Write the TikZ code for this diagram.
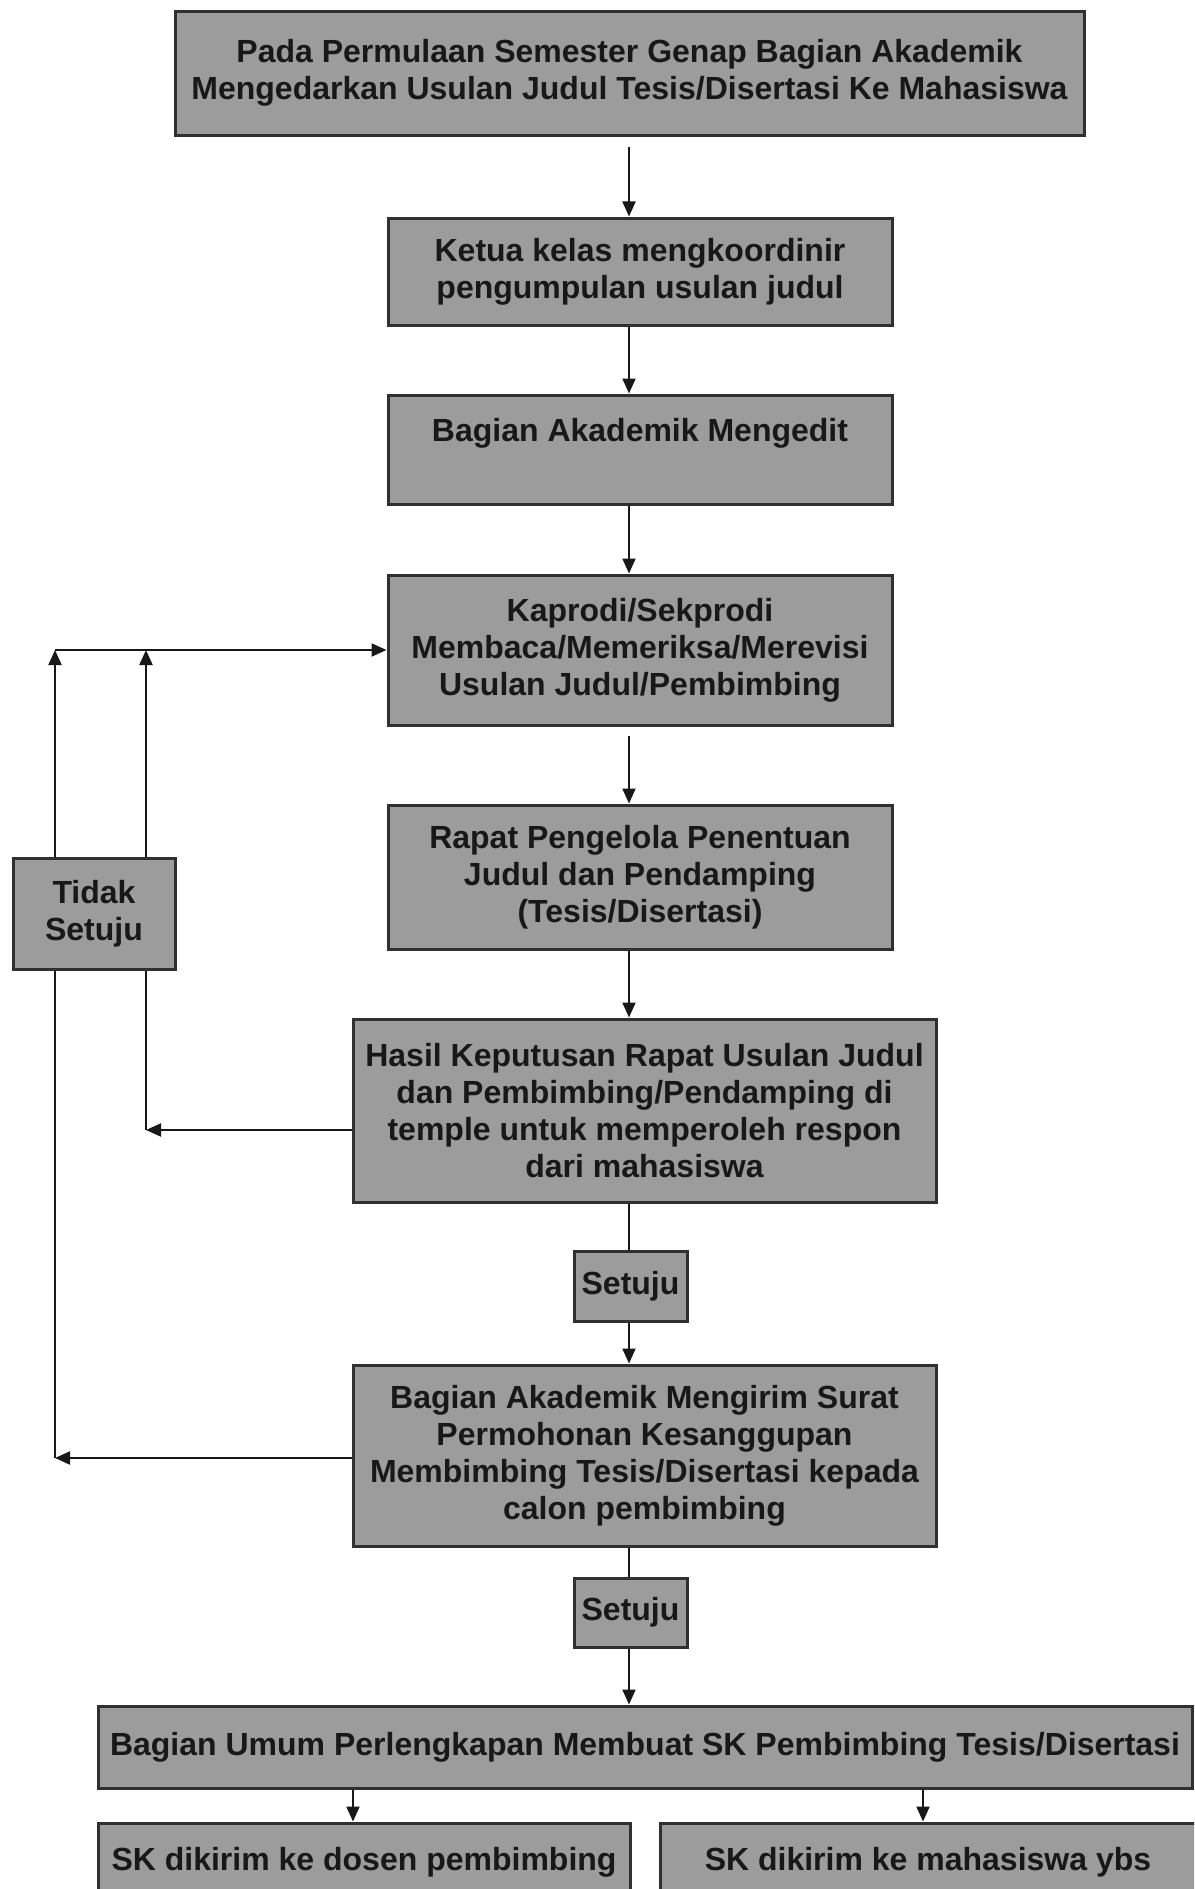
\documentclass[tikz,border=0pt]{standalone}
\usepackage{fontspec}
\setmainfont{Liberation Sans}
\usetikzlibrary{arrows.meta}
\definecolor{boxfill}{RGB}{156,156,156}
\definecolor{boxline}{RGB}{48,48,48}
\definecolor{ink}{RGB}{24,24,24}
\tikzset{
  box/.style={draw=boxline, line width=3pt, fill=boxfill, text=ink,
    font=\fontsize{32}{37}\selectfont\bfseries, align=center, inner sep=0pt},
  flow/.style={draw=ink, line width=2pt, -{Triangle[length=15pt,width=13pt]}},
  link/.style={draw=ink, line width=2pt},
}
\begin{document}
\begin{tikzpicture}[x=1pt,y=-1pt]
\clip (0,0) rectangle (1194,1889);
\fill[white] (0,0) rectangle (1194,1889);

% main column
\node[box, minimum width=909pt, minimum height=124pt] (b1) at (629.5,74)
  {Pada Permulaan Semester Genap Bagian Akademik\\Mengedarkan Usulan Judul Tesis/Disertasi Ke Mahasiswa\\[-28pt]\mbox{}};
\node[box, minimum width=504pt, minimum height=107pt] (b2) at (640,271.5)
  {Ketua kelas mengkoordinir\\pengumpulan usulan judul};
\node[box, minimum width=504pt, minimum height=109pt] (b3) at (640,449.5)
  {Bagian Akademik Mengedit\\[2pt]\mbox{}};
\node[box, minimum width=504pt, minimum height=150pt] (b4) at (640,650)
  {Kaprodi/Sekprodi\\Membaca/Memeriksa/Merevisi\\Usulan Judul/Pembimbing};
\node[box, minimum width=504pt, minimum height=144pt] (b5) at (640,877)
  {Rapat Pengelola Penentuan\\Judul dan Pendamping\\(Tesis/Disertasi)};
\node[box, minimum width=583pt, minimum height=183pt] (b6) at (644.5,1110.5)
  {Hasil Keputusan Rapat Usulan Judul\\dan Pembimbing/Pendamping di\\temple untuk memperoleh respon\\dari mahasiswa};
\node[box, minimum width=113pt, minimum height=70pt] (s1) at (630.5,1286) {Setuju};
\node[box, minimum width=583pt, minimum height=181pt] (b7) at (644.5,1455.5)
  {Bagian Akademik Mengirim Surat\\Permohonan Kesanggupan\\Membimbing Tesis/Disertasi kepada\\calon pembimbing};
\node[box, minimum width=113pt, minimum height=69pt] (s2) at (630.5,1612.5) {Setuju};
\node[box, minimum width=1094pt, minimum height=82pt] (b8) at (645,1747)
  {Bagian Umum Perlengkapan Membuat SK Pembimbing Tesis/Disertasi};
\node[box, minimum width=532pt, minimum height=78pt] (b9) at (364,1862)
  {SK dikirim ke dosen pembimbing};
\node[box, minimum width=536pt, minimum height=78pt] (b10) at (928,1862)
  {SK dikirim ke mahasiswa ybs};

% rejection box
\node[box, minimum width=162pt, minimum height=111pt] (no) at (94,913.5) {Tidak\\Setuju};

% vertical guides
\coordinate (axis) at (629,0);
\coordinate (lx) at (55,0);
\coordinate (rx) at (146,0);
\coordinate (p9) at (353,0);
\coordinate (p10) at (923,0);
\coordinate (r6) at (146,1130);
\coordinate (r7) at (55,1458);

% main flow
\draw[flow, shorten <=10pt] (b1.south -| axis) -- (b2.north -| axis);
\draw[flow] (b2.south -| axis) -- (b3.north -| axis);
\draw[flow] (b3.south -| axis) -- (b4.north -| axis);
\draw[flow, shorten <=9pt] (b4.south -| axis) -- (b5.north -| axis);
\draw[flow] (b5.south -| axis) -- (b6.north -| axis);
\draw[link] (b6.south -| axis) -- (s1.north -| axis);
\draw[flow] (s1.south -| axis) -- (b7.north -| axis);
\draw[link] (b7.south -| axis) -- (s2.north -| axis);
\draw[flow] (s2.south -| axis) -- (b8.north -| axis);
\draw[flow] (b8.south -| p9) -- (b9.north -| p9);
\draw[flow] (b8.south -| p10) -- (b10.north -| p10);

% feedback loops
\draw[flow] (b6.west |- r6) -- (r6);
\draw[link] (r6) -- (no.south -| rx);
\draw[flow] (b7.west |- r7) -- (r7);
\draw[link] (r7) -- (no.south -| lx);
\draw[flow] (no.north -| lx) -- (b4.west -| lx);
\draw[flow] (no.north -| rx) -- (b4.west -| rx);
\draw[flow] (b4.west -| lx) -- (b4.west);
\end{tikzpicture}
\end{document}
